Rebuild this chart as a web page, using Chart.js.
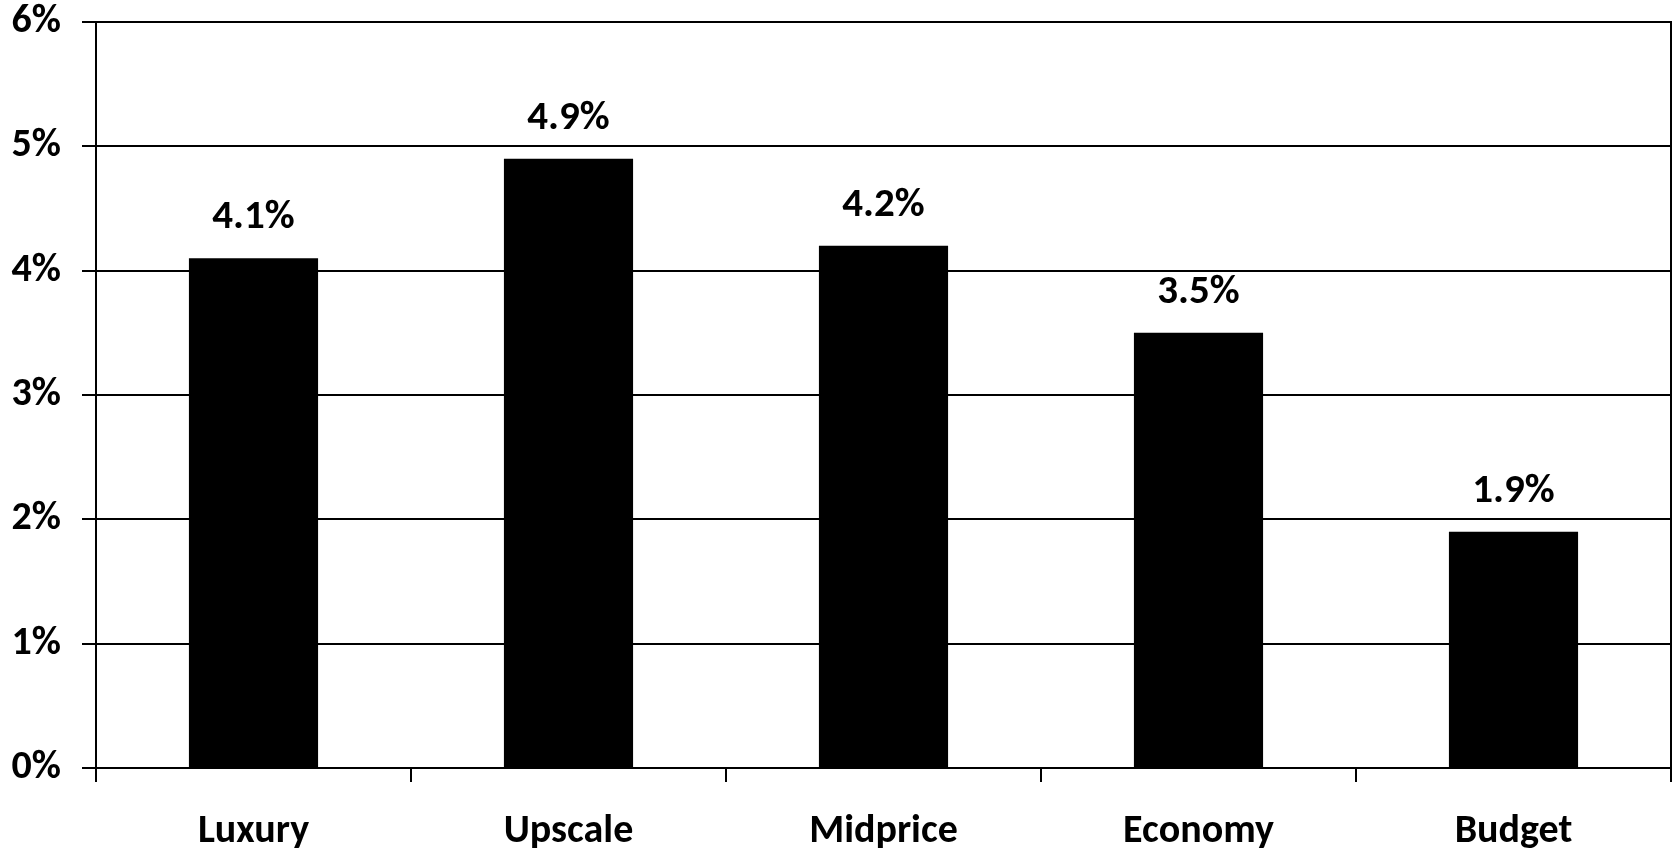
<!DOCTYPE html>
<html>
<head>
<meta charset="utf-8">
<script src="https://cdn.jsdelivr.net/npm/chart.js@4"></script>
<style>
  html, body { margin: 0; padding: 0; background: #fff; }
  #wrap { width: 1675px; height: 852px; }
</style>
</head>
<body>
<div id="wrap"><canvas id="chart" width="1675" height="852"></canvas></div>
<script>
const categories = ['Luxury', 'Upscale', 'Midprice', 'Economy', 'Budget'];
const growth = [4.1, 4.9, 4.2, 3.5, 1.9];
const yTicks = [0, 1, 2, 3, 4, 5, 6];

const fontFamily = 'Carlito, Calibri, Lato, sans-serif';

// writes the value above each bar
const valueLabels = {
    id: 'valueLabels',
    afterDatasetsDraw(chart) {
        const ctx = chart.ctx;
        const meta = chart.getDatasetMeta(0);
        ctx.save();
        ctx.fillStyle = '#000';
        ctx.font = 'bold 41px ' + fontFamily;
        ctx.textAlign = 'center';
        ctx.textBaseline = 'alphabetic';
        meta.data.forEach((bar, i) => {
            ctx.fillText(growth[i].toFixed(1) + '%', bar.x, bar.y - 30);
        });
        ctx.restore();
    }
};

new Chart(document.getElementById('chart'), {
    type: 'bar',
    data: {
        labels: categories,
        datasets: [{
            data: growth,
            backgroundColor: '#000',
            borderColor: '#000',
            borderWidth: 0,
            barPercentage: 0.41,
            categoryPercentage: 1
        }]
    },
    options: {
        responsive: false,
        animation: false,
        layout: { padding: { top: 22, right: 2, left: 0, bottom: 0 } },
        plugins: {
            legend: { display: false },
            tooltip: { enabled: false }
        },
        scales: {
            x: {
                offset: true,
                grid: {
                    display: true,
                    offset: true,
                    drawOnChartArea: false,
                    drawTicks: true,
                    tickLength: 14,
                    color: '#000',
                    lineWidth: 2
                },
                border: { display: true, color: '#000', width: 2 },
                ticks: {
                    color: '#000',
                    padding: 26,
                    font: { family: fontFamily, size: 40, weight: 'bold' }
                },
                afterFit(scale) { scale.height = 84; }
            },
            y: {
                min: 0,
                max: 6,
                afterBuildTicks(scale) {
                    scale.ticks = yTicks.map(v => ({ value: v }));
                },
                grid: {
                    color: '#000',
                    lineWidth: 2,
                    tickLength: 14
                },
                border: { display: true, color: '#000', width: 2 },
                ticks: {
                    color: '#000',
                    padding: 21,
                    font: { family: fontFamily, size: 40, weight: 'bold' },
                    callback: v => v + '%'
                },
                afterFit(scale) {
                    scale.width = 96;
                    scale.paddingTop = 0;
                    scale.paddingBottom = 0;
                }
            },
            yRight: {
                position: 'right',
                min: 0,
                max: 6,
                grid: { drawOnChartArea: false, drawTicks: false },
                border: { display: true, color: '#000', width: 2 },
                ticks: { display: false },
                afterFit(scale) { scale.width = 2; }
            }
        }
    },
    plugins: [valueLabels]
});
</script>
</body>
</html>
